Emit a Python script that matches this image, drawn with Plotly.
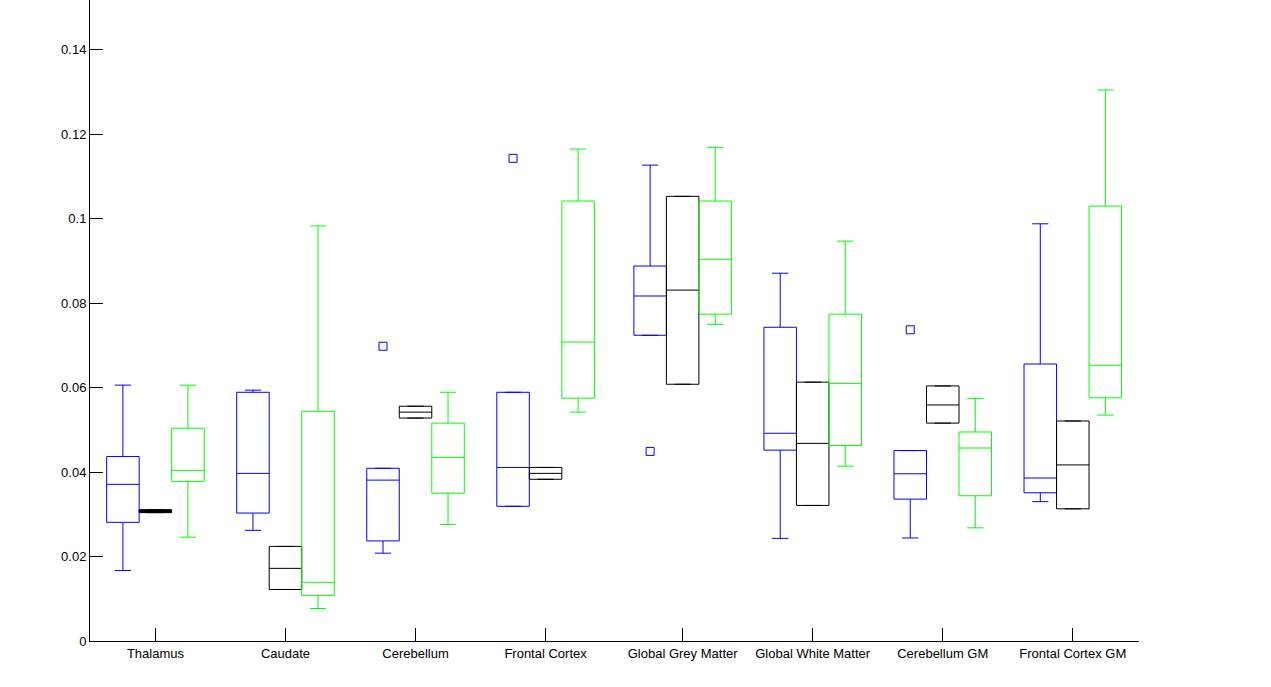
import plotly.graph_objects as go

categories = ["Thalamus", "Caudate", "Cerebellum", "Frontal Cortex",
              "Global Grey Matter", "Global White Matter", "Cerebellum GM", "Frontal Cortex GM"]
positions = [1, 2, 3, 4, 5.054, 6.054, 7.054, 8.054]

groups = ["Group 1", "Group 2", "Group 3"]
group_offsets = [-0.25, 0.0, 0.25]
group_colors = ["#0000ff", "#000000", "#00ff00"]

# Group 1 (blue)
g1_low = [0.0167, 0.0262, 0.0208, 0.0319, 0.0724, 0.0243, 0.0244, 0.0330]
g1_q1 = [0.0281, 0.0303, 0.0237, 0.0319, 0.0724, 0.0452, 0.0336, 0.0351]
g1_med = [0.0371, 0.0397, 0.0381, 0.0411, 0.0817, 0.0492, 0.0396, 0.0386]
g1_q3 = [0.0437, 0.0589, 0.0409, 0.0589, 0.0888, 0.0743, 0.0451, 0.0656]
g1_high = [0.0606, 0.0594, 0.0409, 0.0589, 0.1127, 0.0871, 0.0451, 0.0988]

# Group 2 (black)
g2_low = [0.0304, 0.0122, 0.0528, 0.0383, 0.0608, 0.0321, 0.0516, 0.0313]
g2_q1 = [0.0304, 0.0122, 0.0528, 0.0383, 0.0608, 0.0321, 0.0516, 0.0313]
g2_med = [0.0307, 0.0172, 0.0542, 0.0397, 0.0831, 0.0468, 0.0559, 0.0417]
g2_q3 = [0.0311, 0.0224, 0.0556, 0.0411, 0.1053, 0.0613, 0.0604, 0.0521]
g2_high = [0.0311, 0.0224, 0.0556, 0.0411, 0.1053, 0.0613, 0.0604, 0.0521]

# Group 3 (green)
g3_low = [0.0246, 0.0077, 0.0276, 0.0542, 0.0750, 0.0414, 0.0268, 0.0535]
g3_q1 = [0.0378, 0.0108, 0.0350, 0.0575, 0.0774, 0.0463, 0.0344, 0.0576]
g3_med = [0.0404, 0.0139, 0.0435, 0.0708, 0.0904, 0.0610, 0.0457, 0.0653]
g3_q3 = [0.0504, 0.0544, 0.0516, 0.1042, 0.1042, 0.0774, 0.0495, 0.1030]
g3_high = [0.0606, 0.0983, 0.0589, 0.1165, 0.1169, 0.0947, 0.0574, 0.1305]

# Outliers (group 1)
outlier_cat = [2, 3, 4, 6]
outlier_val = [0.0698, 0.1143, 0.0449, 0.0737]

y_ticks = [0, 0.02, 0.04, 0.06, 0.08, 0.1, 0.12, 0.14]
y_ticklabels = ["0", "0.02", "0.04", "0.06", "0.08", "0.1", "0.12", "0.14"]

stats = [
    (g1_low, g1_q1, g1_med, g1_q3, g1_high),
    (g2_low, g2_q1, g2_med, g2_q3, g2_high),
    (g3_low, g3_q1, g3_med, g3_q3, g3_high),
]

fig = go.Figure()
box_width = 0.25
for gi, (low, q1, med, q3, high) in enumerate(stats):
    for ci in range(len(categories)):
        thin = (q3[ci] - q1[ci]) < 0.001
        fig.add_trace(go.Box(
            x=[positions[ci] + group_offsets[gi]],
            lowerfence=[low[ci]], q1=[q1[ci]], median=[med[ci]],
            q3=[q3[ci]], upperfence=[high[ci]],
            width=box_width, whiskerwidth=0.5,
            line=dict(color=group_colors[gi], width=1),
            fillcolor=group_colors[gi] if thin else "rgba(0,0,0,0)",
            boxpoints=False, showlegend=False, name=groups[gi],
        ))

fig.add_trace(go.Scatter(
    x=[positions[c] + group_offsets[0] for c in outlier_cat],
    y=outlier_val, mode="markers",
    marker=dict(symbol="square-open", size=8, color="#0000ff", line=dict(width=1, color="#0000ff")),
    showlegend=False,
))

fig.update_layout(
    width=1271, height=687,
    margin=dict(l=90, r=132, t=0, b=46),
    paper_bgcolor="white", plot_bgcolor="white",
    font=dict(family="Liberation Sans, Arial, sans-serif", size=13, color="black"),
    boxmode="overlay",
    showlegend=False,
)
fig.update_xaxes(
    range=[0.497, 8.563], tickvals=positions, ticktext=categories,
    showline=True, linecolor="black", linewidth=1,
    ticks="inside", ticklen=13, tickcolor="black", tickwidth=1,
    showgrid=False, zeroline=False, fixedrange=True,
)
fig.update_yaxes(
    range=[0, 0.1518], tickvals=y_ticks, ticktext=y_ticklabels,
    showline=True, linecolor="black", linewidth=1,
    ticks="inside", ticklen=13, tickcolor="black", tickwidth=1,
    showgrid=False, zeroline=False, fixedrange=True,
)

fig.write_html("out.html", config={"displayModeBar": False})

# remove the default page margin so the figure sits at the window origin
with open("out.html", "r", encoding="utf-8") as f:
    html = f.read()
html = html.replace("<head>", "<head><style>html,body{margin:0;padding:0;overflow:hidden;}</style>", 1)
with open("out.html", "w", encoding="utf-8") as f:
    f.write(html)
